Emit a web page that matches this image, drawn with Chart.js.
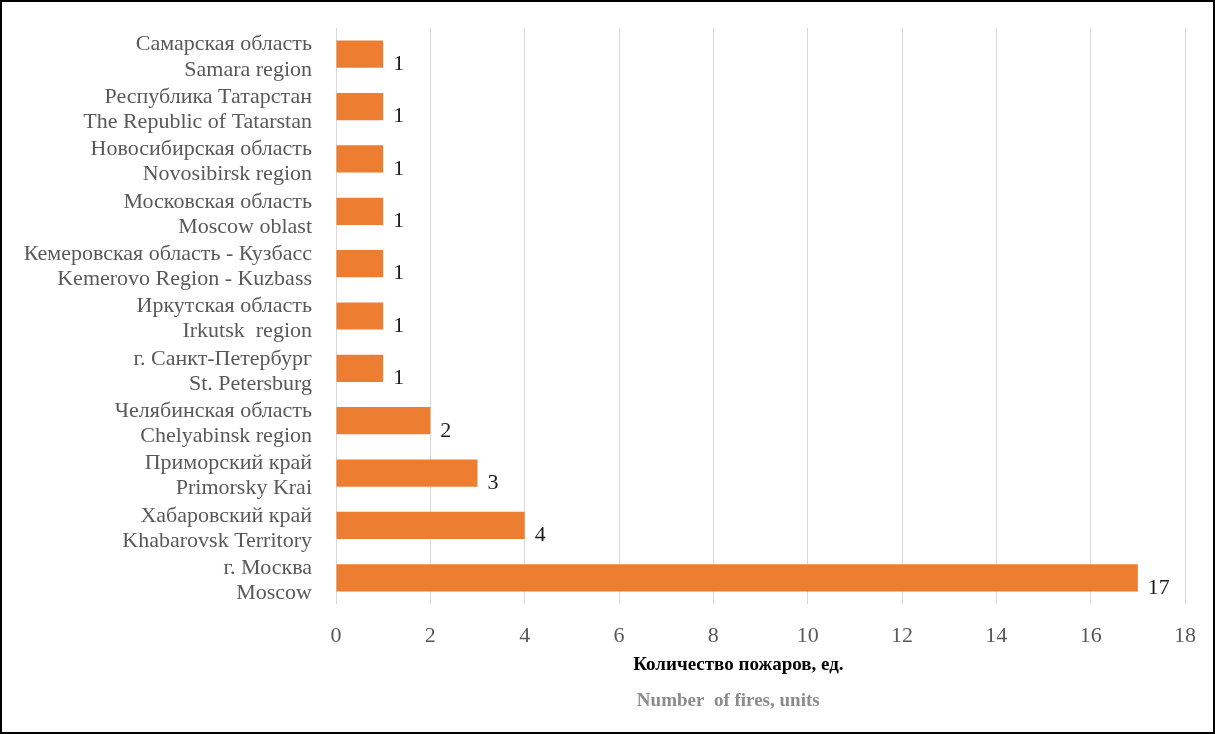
<!DOCTYPE html>
<html>
<head>
<meta charset="utf-8">
<script src="https://cdn.jsdelivr.net/npm/chart.js@4/dist/chart.umd.min.js"></script>
<style>
  html, body { margin: 0; padding: 0; background: #fff; }
  #frame {
    width: 1215px; height: 734px; box-sizing: border-box;
    border: 2px solid #000; background: #fff;
  }
  canvas { display: block; }
</style>
</head>
<body>
<div id="frame"><canvas id="fires" width="1211" height="730"></canvas></div>
<script>
// regions, top to bottom as in the picture
const ruLabels = [
  "Самарская область",
  "Республика Татарстан",
  "Новосибирская область",
  "Московская область",
  "Кемеровская область - Кузбасс",
  "Иркутская область",
  "г. Санкт-Петербург",
  "Челябинская область",
  "Приморский край",
  "Хабаровский край",
  "г. Москва"
];
const enLabels = [
  "Samara region",
  "The Republic of Tatarstan",
  "Novosibirsk region",
  "Moscow oblast",
  "Kemerovo Region - Kuzbass",
  "Irkutsk  region",
  "St. Petersburg",
  "Chelyabinsk region",
  "Primorsky Krai",
  "Khabarovsk Territory",
  "Moscow"
];
const fireCounts = [1, 1, 1, 1, 1, 1, 1, 2, 3, 4, 17];

const axisTitleRu = "Количество пожаров, ед.";
const axisTitleEn = "Number  of fires, units";

const serif = '"Liberation Serif", "Times New Roman", serif';

const labels = [];
for (var i = 0; i < ruLabels.length; i++) {
  labels.push([ruLabels[i], enLabels[i]]);
}

// value next to each bar end
const valueLabels = {
  id: 'valueLabels',
  afterDatasetsDraw(chart) {
    const ctx = chart.ctx;
    const meta = chart.getDatasetMeta(0);
    ctx.save();
    ctx.font = '22px ' + serif;
    ctx.fillStyle = '#1a1a1a';
    ctx.textAlign = 'left';
    ctx.textBaseline = 'middle';
    meta.data.forEach(function (bar, idx) {
      ctx.fillText(String(fireCounts[idx]), bar.x + 10, bar.y + 10);
    });
    ctx.restore();
  }
};

// two-colour axis title under the x ticks
const axisTitles = {
  id: 'axisTitles',
  afterDraw(chart) {
    const ctx = chart.ctx;
    const area = chart.chartArea;
    const w = area.right - area.left;
    ctx.save();
    ctx.textAlign = 'center';
    ctx.textBaseline = 'middle';
    ctx.font = 'bold 19px ' + serif;
    ctx.fillStyle = '#000';
    ctx.fillText(axisTitleRu, area.left + w * 0.474, 663);
    ctx.fillStyle = '#8c8c8c';
    ctx.fillText(axisTitleEn, area.left + w * 0.462, 699);
    ctx.restore();
  }
};

new Chart(document.getElementById('fires'), {
  type: 'bar',
  data: {
    labels: labels,
    datasets: [{
      data: fireCounts,
      backgroundColor: '#ED7D31',
      borderWidth: 0,
      barPercentage: 0.52,
      categoryPercentage: 1
    }]
  },
  options: {
    indexAxis: 'y',
    responsive: false,
    animation: false,
    layout: { padding: { left: 20, right: 28, top: 26, bottom: 88 } },
    plugins: {
      legend: { display: false },
      tooltip: { enabled: false }
    },
    scales: {
      x: {
        min: 0,
        max: 18,
        afterFit(scale) {
          scale.height = 40;
          scale.paddingLeft = 0;
          scale.paddingRight = 0;
        },
        ticks: {
          stepSize: 2,
          padding: 19,
          color: '#595959',
          font: { family: serif, size: 22 }
        },
        grid: { color: '#d9d9d9', drawTicks: false },
        border: { display: false }
      },
      y: {
        afterFit(scale) {
          scale.width = 314;
          scale.paddingTop = 0;
          scale.paddingBottom = 0;
        },
        ticks: {
          autoSkip: false,
          padding: 16,
          labelOffset: 3,
          color: '#595959',
          font: { family: serif, size: 22, lineHeight: 1.14 }
        },
        grid: { display: false },
        border: { display: false }
      }
    }
  },
  plugins: [valueLabels, axisTitles]
});
</script>
</body>
</html>
